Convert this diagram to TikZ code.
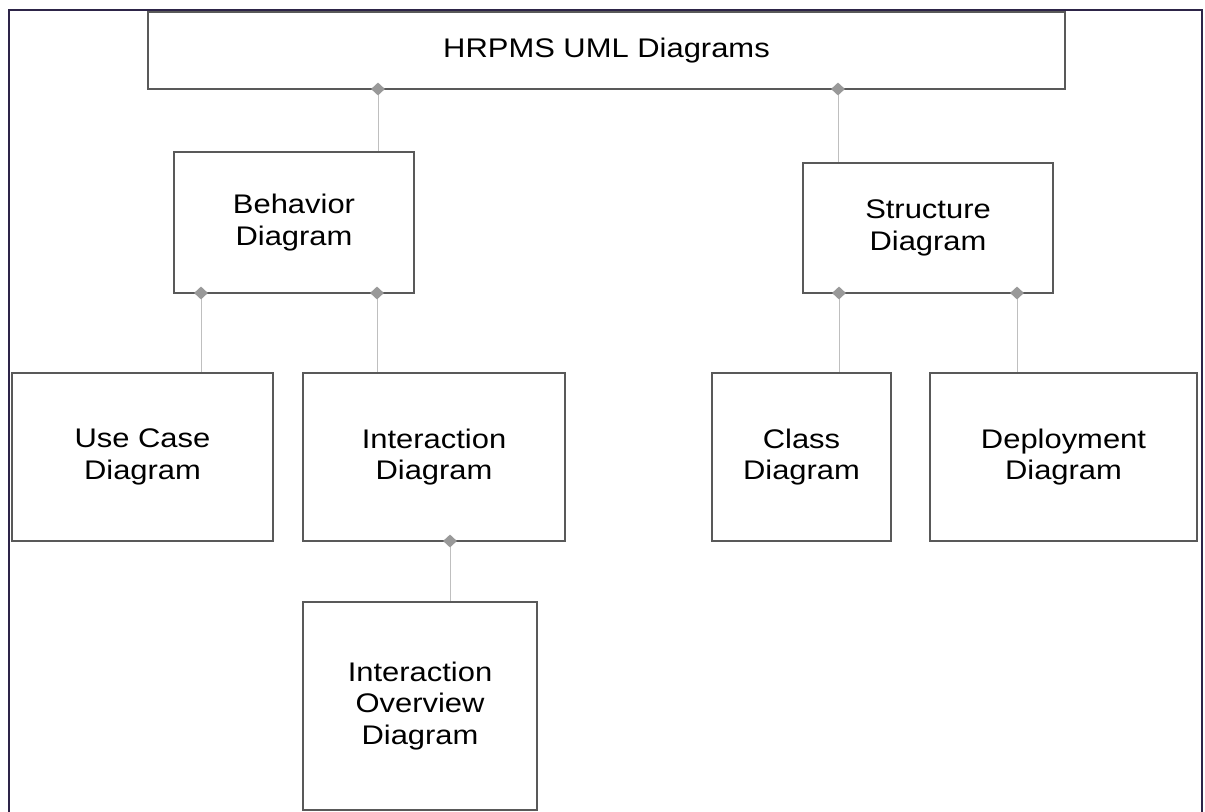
\documentclass[tikz,border=0pt]{standalone}
\usepackage{fontspec}
\setmainfont{Liberation Sans}[FakeStretch=1.15]
\usepackage{tikz}
\usepackage{xcolor}
\usetikzlibrary{shapes.geometric}
\definecolor{frameline}{RGB}{45,36,72}

\begin{document}
\begin{tikzpicture}[x=1bp,y=-1bp,
        box/.style={draw=black!65,line width=1.2bp,fill=white,align=center,inner sep=0pt,
            font=\fontsize{27}{32}\selectfont},
        link/.style={draw=black!25,line width=1bp},
        knob/.style={diamond,fill=black!40,inner sep=0pt,minimum width=14bp,minimum height=13bp}]
                \useasboundingbox (0,0) rectangle (1205,812);
                \draw[frameline,line width=2.5bp](9,812) -- (9,10) -- (1202,10) -- (1202,812);
                % boxes
                \node[box,minimum width=917bp,minimum height=77bp] (title) at (606.5,50.5) {HRPMS UML Diagrams};
                \node[box,minimum width=240bp,minimum height=141bp] (behavior) at (294,222.5) {Behavior\\Diagram};
                \node[box,minimum width=250bp,minimum height=130bp] (structure) at (928,228) {Structure\\Diagram};
                \node[box,minimum width=261bp,minimum height=168bp] (usecase) at (142.5,457) {Use Case\\Diagram};
                \node[box,minimum width=262bp,minimum height=168bp] (interaction) at (434,457) {Interaction\\Diagram};
                \node[box,minimum width=234bp,minimum height=208bp] (overview) at (420,706) {Interaction\\Overview\\Diagram};
                \node[box,minimum width=179bp,minimum height=168bp] (class) at (801.5,457) {Class\\Diagram};
                \node[box,minimum width=267bp,minimum height=168bp] (deploy) at (1063.5,457) {Deployment\\Diagram};
                % aggregation points
                \coordinate (t1) at (378,89);
                \coordinate (t2) at (838,89);
                \coordinate (b1) at (201,293);
                \coordinate (b2) at (377,293);
                \coordinate (s1) at (839,293);
                \coordinate (s2) at (1017,293);
                \coordinate (i1) at (450,541);
                \draw[link] (t1) -- (t1 |- behavior.north);
                \draw[link] (t2) -- (t2 |- structure.north);
                \draw[link] (b1) -- (b1 |- usecase.north);
                \draw[link] (b2) -- (b2 |- interaction.north);
                \draw[link] (s1) -- (s1 |- class.north);
                \draw[link] (s2) -- (s2 |- deploy.north);
                \draw[link] (i1) -- (i1 |- overview.north);
                \foreach \p in {t1,t2,b1,b2,s1,s2,i1}
                    \node[knob] at (\p) {};
            \end{tikzpicture}
\end{document}
